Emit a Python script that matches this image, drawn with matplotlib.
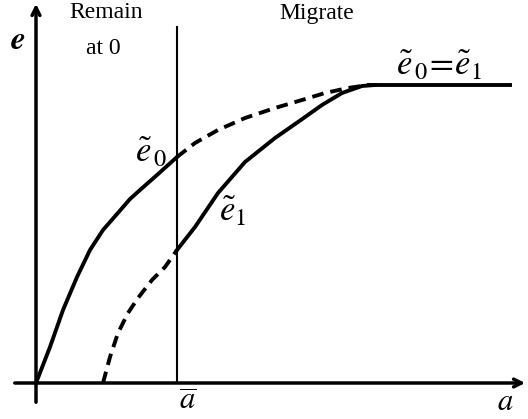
import matplotlib
matplotlib.use('Agg')
import matplotlib.pyplot as plt

plt.rcParams['mathtext.fontset'] = 'stix'
plt.rcParams['font.family'] = ['Liberation Serif', 'DejaVu Serif']

# curve points (origin at the axes crossing)
e0_solid_x = [0, 14, 27, 41, 54, 67, 81, 94, 104, 121, 141]
e0_solid_y = [0, 36, 73, 106, 133, 153, 169, 184, 193, 208, 226]
e0_dash_x = [141, 159, 182, 209, 239, 266, 289, 312, 332, 339]
e0_dash_y = [226, 240, 253, 265, 275, 283, 290, 295, 298, 298]
e1_dash_x = [67, 74, 82, 92, 102, 116, 129, 141]
e1_dash_y = [0, 26, 50, 70, 85, 103, 116, 133]
e1_solid_x = [141, 159, 182, 209, 239, 262, 286, 306, 326, 339]
e1_solid_y = [133, 156, 190, 221, 245, 261, 278, 290, 297, 298]
flat_x = [339, 474]
flat_y = [298, 298]
a_bar = 141

fig = plt.figure(figsize=(5.28, 4.19), dpi=100)
ax = fig.add_axes([0, 0, 1, 1])
ax.set_xlim(-36, 492)
ax.set_ylim(-36, 383)
ax.axis('off')

lw = 2.8
dash = (0, (3.0, 1.8))
ax.plot(e0_solid_x, e0_solid_y, color='black', lw=lw, solid_joinstyle='round')
ax.plot(e0_dash_x, e0_dash_y, color='black', lw=lw, linestyle=dash)
ax.plot(e1_dash_x, e1_dash_y, color='black', lw=lw, linestyle=dash)
ax.plot(e1_solid_x, e1_solid_y, color='black', lw=lw, solid_joinstyle='round')
ax.plot(flat_x, flat_y, color='black', lw=lw)

# a-bar vertical line
ax.plot([a_bar, a_bar], [0, 356], color='black', lw=1.5)

# axes with arrows
ax.annotate('', xy=(0, 382), xytext=(0, -22),
            arrowprops=dict(arrowstyle='->', lw=2.5, color='black', mutation_scale=14))
ax.annotate('', xy=(492, 0), xytext=(-24, 0),
            arrowprops=dict(arrowstyle='->', lw=2.5, color='black', mutation_scale=14))

ax.text(-18, 342, r'$\boldsymbol{e}$', fontsize=24, ha='center', va='center')
ax.text(70, 370, 'Remain', fontsize=17, ha='center', va='center')
ax.text(67, 334, 'at 0', fontsize=17, ha='center', va='center')
ax.text(281, 370, 'Migrate', fontsize=17, ha='center', va='center')
ax.text(115, 229, r'$\tilde{e}_{\,0}$', fontsize=25, ha='center', va='center')
ax.text(197, 170, r'$\tilde{e}_{1}$', fontsize=25, ha='center', va='center')
ax.text(403, 316, r'$\tilde{e}_{\,0}\!=\!\tilde{e}_{1}$', fontsize=25, ha='center', va='center')
ax.text(a_bar + 11, -34, r'$\overline{a}$', fontsize=22, ha='center', va='bottom')
ax.text(469, -34, r'$a$', fontsize=22, ha='center', va='bottom')

fig.savefig('out.png', dpi=100)
